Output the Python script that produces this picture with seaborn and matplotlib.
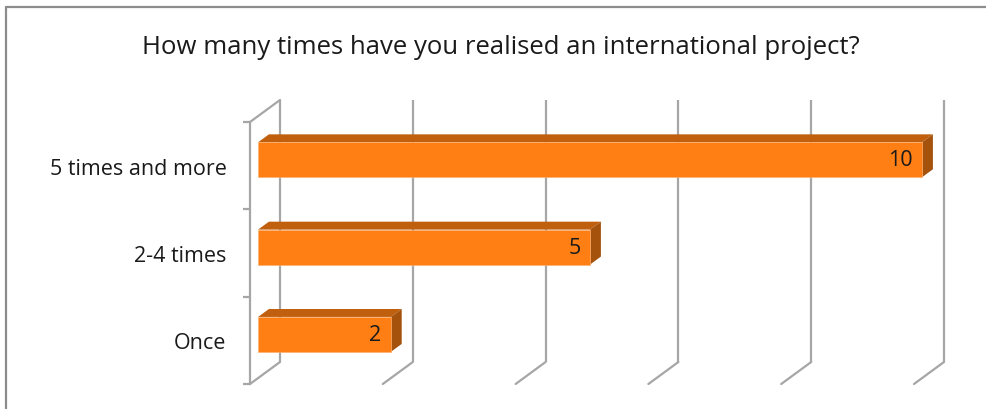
import matplotlib
matplotlib.use("Agg")
import matplotlib.pyplot as plt
from matplotlib.patches import Polygon
from matplotlib.lines import Line2D
import seaborn as sns
import pandas as pd

# data
categories = ["5 times and more", "2-4 times", "Once"]
counts = [10, 5, 2]
title = "How many times have you realised an international project?"
grid_values = [0, 2, 4, 6, 8, 10]

# colours of the pseudo-3D bars
FRONT = "#FF7F14"
TOP = "#C0600E"
SIDE = "#A4520C"
GRID = "#A6A6A6"

# oblique depth offset (full depth) in data units, and bar depth slice
DX, DY = 0.452, -0.252
F1, F2 = 0.27, 0.63

sns.set_theme(style="white")
plt.rcParams["font.family"] = ["Open Sans", "DejaVu Sans"]

fig = plt.figure(figsize=(9.87, 4.10), dpi=100)
ax = fig.add_axes([250 / 987, 25 / 410, 664 / 987, 262 / 410])

df = pd.DataFrame({"Category": categories, "Count": counts})
sns.barplot(data=df, x="Count", y="Category", orient="h", width=0.4,
            color=FRONT, saturation=1, ax=ax, zorder=4)
ax.set_xlim(0, 10)
ax.set_ylim(2.5, -0.5)

# back wall gridlines and floor diagonals
for v in grid_values:
    ax.plot([v + DX, v + DX], [2.5 + DY, -0.5 + DY], color=GRID, lw=1.6,
            clip_on=False, zorder=1, solid_capstyle="butt")
    ax.plot([v, v + DX], [2.5, 2.5 + DY], color=GRID, lw=1.6,
            clip_on=False, zorder=1)
# top edge of the side wall
ax.plot([0, DX], [-0.5, -0.5 + DY], color=GRID, lw=1.6, clip_on=False, zorder=1)

# turn flat bars into boxes
for patch, val in zip(ax.patches, counts):
    x0, y0 = patch.get_x(), patch.get_y()
    w, h = patch.get_width(), patch.get_height()
    patch.set_x(x0 + F1 * DX)
    patch.set_y(y0 + F1 * DY)
    patch.set_edgecolor("#FFB070")
    patch.set_linewidth(0.5)
    patch.set_clip_on(False)
    top = [(x0 + F1 * DX, y0 + F1 * DY), (x0 + w + F1 * DX, y0 + F1 * DY),
           (x0 + w + F2 * DX, y0 + F2 * DY), (x0 + F2 * DX, y0 + F2 * DY)]
    side = [(x0 + w + F1 * DX, y0 + F1 * DY), (x0 + w + F1 * DX, y0 + h + F1 * DY),
            (x0 + w + F2 * DX, y0 + h + F2 * DY), (x0 + w + F2 * DX, y0 + F2 * DY)]
    ax.add_patch(Polygon(top, closed=True, facecolor=TOP, edgecolor="none",
                         clip_on=False, zorder=3))
    ax.add_patch(Polygon(side, closed=True, facecolor=SIDE, edgecolor="none",
                         clip_on=False, zorder=3))
    ax.annotate(str(val), xy=(x0 + w + F1 * DX, y0 + h / 2 + F1 * DY),
                xytext=(-7, 0), textcoords="offset points", ha="right",
                va="center", fontsize=15.5, color="#1A1A1A", zorder=5,
                annotation_clip=False)

# front axis with category ticks
for side_name in ["top", "right", "bottom"]:
    ax.spines[side_name].set_visible(False)
ax.spines["left"].set_color(GRID)
ax.spines["left"].set_linewidth(1.6)
ax.set_xticks([])
ax.set_yticks([0, 1, 2])
ax.set_yticklabels(categories, fontsize=15.5, color="#1A1A1A")
ax.set_yticks([-0.5, 0.5, 1.5, 2.5], minor=True)
ax.tick_params(axis="y", which="major", length=0, pad=17)
ax.tick_params(axis="y", which="minor", length=5, width=1.6, color=GRID,
               direction="out", left=True)
ax.set_xlabel("")
ax.set_ylabel("")
ax.grid(False)
ax.set_facecolor("none")

fig.text(501 / 987, 1 - 47 / 410, title, ha="center", va="center",
         fontsize=18.5, color="#1A1A1A")

# chart frame (left and top edges visible in the crop)
fig.add_artist(Line2D([6 / 987, 6 / 987], [0, 1 - 8 / 410], color="#8C8C8C",
                      lw=1.6, transform=fig.transFigure))
fig.add_artist(Line2D([6 / 987, 1], [1 - 8 / 410, 1 - 8 / 410], color="#8C8C8C",
                      lw=1.6, transform=fig.transFigure))

fig.savefig("out.png", dpi=100)
